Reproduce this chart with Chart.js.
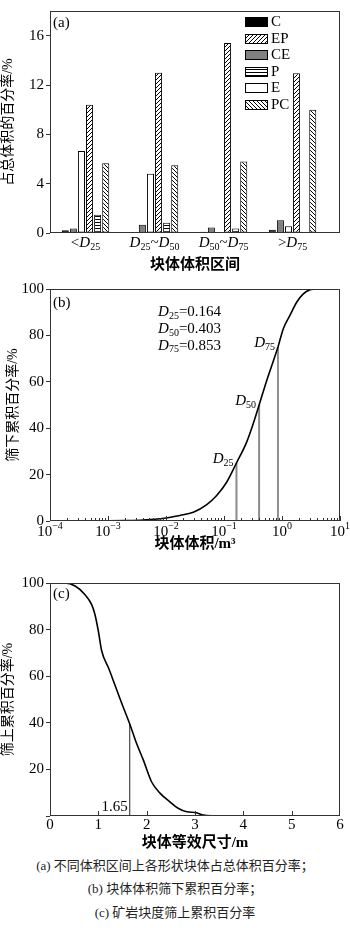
<!DOCTYPE html>
<html>
<head>
<meta charset="utf-8">
<script src="https://cdn.jsdelivr.net/npm/chart.js@4.4.1/dist/chart.umd.min.js"></script>
<style>
  html, body { margin: 0; padding: 0; background: #fff; }
  body { width: 350px; height: 928px; position: relative; overflow: hidden; }
  .panel { position: absolute; left: 0; width: 350px; }
  #pa { top: 0; height: 275px; }
  #pb { top: 278px; height: 275px; }
  #pc { top: 570px; height: 283px; }
  .cap { position: absolute; left: 0; width: 350px; text-align: center;
         font: 13px 'Liberation Serif', 'Noto Sans CJK SC', serif; line-height: 18px; color: #222; }
</style>
</head>
<body>
<div class="panel" id="pa"><canvas id="ca"></canvas></div>
<div class="panel" id="pb"><canvas id="cb"></canvas></div>
<div class="panel" id="pc"><canvas id="cc"></canvas></div>
<div class="cap" style="top:857px">(a) 不同体积区间上各形状块体占总体积百分率；</div>
<div class="cap" style="top:880px">(b) 块体体积筛下累积百分率；</div>
<div class="cap" style="top:904px">(c) 矿岩块度筛上累积百分率</div>

<script>
// (a) 各体积区间内不同形状块体的体积占比 (%)
const categories = ['<$D$_{25}', '$D$_{25}~$D$_{50}', '$D$_{50}~$D$_{75}', '>$D$_{75}'];
const catPos = [0, 1, 2, 3];
const shapeNames = ['C', 'CE', 'E', 'EP', 'P', 'PC'];
const valC  = [0.23, null, 0.1, 0.26];
const valCE = [0.36, 0.67, 0.44, 1.03];
const valE  = [6.65, 4.8, null, 0.54];
const valEP = [10.4, 13.0, 15.4, 12.95];
const valP  = [1.47, 0.83, 0.37, null];
const valPC = [5.66, 5.5, 5.8, 10.0];
const legendOrder = ['C', 'EP', 'CE', 'P', 'E', 'PC'];

// (b) 块体体积筛下累积
const volX  = [0.0005, 0.001, 0.002, 0.004, 0.008, 0.0174, 0.0296, 0.0504, 0.0748, 0.111, 0.164, 0.246, 0.32, 0.403, 0.544, 0.709, 0.853, 1.05, 1.37, 1.79, 2.33, 3.04, 3.7];
const passY = [0, 0.05, 0.2, 0.45, 0.95, 2.4, 3.8, 7.1, 11, 16.7, 25, 34, 42, 50, 60.5, 69, 75, 82.8, 88.6, 94.3, 97.9, 99.7, 100];
const dNames  = ['25', '50', '75'];
const dValues = [0.164, 0.403, 0.853];
const dLevels = [25, 50, 75];
const volTicks = [1e-4, 1e-3, 1e-2, 1e-1, 1, 10];
const volTickLabels = ['10^{−4}', '10^{−3}', '10^{−2}', '10^{−1}', '10^{0}', '10^{1}'];

// (c) 块度筛上累积
const sizeX   = [0, 0.3, 0.52, 0.72, 0.86, 0.93, 1.0, 1.07, 1.21, 1.34, 1.48, 1.65, 1.79, 1.93, 2.1, 2.28, 2.48, 2.65, 2.83, 3.03, 3.17, 3.38, 4.0, 4.6, 5.2];
const retainY = [100, 100, 98.7, 95.1, 90.8, 86.5, 79.4, 70.8, 63.6, 56.4, 48.6, 39.5, 31.2, 24.1, 14.7, 9.7, 6.1, 3.3, 1.8, 1.4, 0.4, 0.1, 0, 0, 0];
const markSize = 1.65;
const markLevel = 39.5;

Chart.defaults.font.family = "'Liberation Serif', 'Noto Sans CJK SC', serif";
Chart.defaults.font.size = 15;
Chart.defaults.color = '#000';
Chart.defaults.animation = false;
Chart.defaults.maintainAspectRatio = false;
Chart.defaults.plugins.legend.display = false;
Chart.defaults.plugins.tooltip.enabled = false;

// petit texte "riche" : $..$ italique, _{..} indice, ^{..} exposant
function richParts(s) {
  const parts = [];
  let it = false;
  s.split(/(\$|_\{[^}]*\}|\^\{[^}]*\})/).forEach(tok => {
    if (!tok) return;
    if (tok === '$') { it = !it; return; }
    if (tok[0] === '_' && tok[1] === '{') parts.push({ t: tok.slice(2, -1), sub: true });
    else if (tok[0] === '^' && tok[1] === '{') parts.push({ t: tok.slice(2, -1), sup: true });
    else parts.push({ t: tok, it });
  });
  return parts;
}
function drawRich(ctx, s, x, y, align, size = 15) {
  const parts = richParts(s);
  const small = Math.round(size * 0.68);
  const fontOf = p => (p.it ? 'italic ' : '') + (p.sub || p.sup ? small : size) + "px 'Liberation Serif', 'Noto Sans CJK SC', serif";
  ctx.save();
  let w = 0;
  parts.forEach(p => { ctx.font = fontOf(p); p.w = ctx.measureText(p.t).width; w += p.w; });
  let cx = align === 'center' ? x - w / 2 : align === 'right' ? x - w : x;
  ctx.fillStyle = '#000';
  ctx.textBaseline = 'middle';
  ctx.textAlign = 'left';
  parts.forEach(p => {
    ctx.font = fontOf(p);
    ctx.fillText(p.t, cx, y + (p.sub ? size * 0.27 : p.sup ? -size * 0.38 : 0));
    cx += p.w;
  });
  ctx.restore();
}

function hatch(kind) {
  const c = document.createElement('canvas');
  c.width = 4; c.height = kind === '-' ? 3 : 4;
  const g = c.getContext('2d');
  g.fillStyle = '#fff'; g.fillRect(0, 0, c.width, c.height);
  g.strokeStyle = '#000'; g.lineWidth = 1;
  g.beginPath();
  if (kind === '/') {
    g.moveTo(-1, 5); g.lineTo(5, -1); g.moveTo(-1, 1); g.lineTo(1, -1); g.moveTo(3, 5); g.lineTo(5, 3);
  } else if (kind === '\\') {
    g.moveTo(-1, -1); g.lineTo(5, 5); g.moveTo(3, -1); g.lineTo(5, 1); g.moveTo(-1, 3); g.lineTo(1, 5);
  } else {
    g.moveTo(0, 0.5); g.lineTo(4, 0.5);
  }
  g.stroke();
  return g.createPattern(c, 'repeat');
}

function framePlugin(tag, dy) {
  return {
    id: 'frame',
    afterDraw(chart) {
      const { ctx, chartArea: a } = chart;
      ctx.save();
      ctx.strokeStyle = '#333';
      ctx.lineWidth = 1;
      ctx.strokeRect(Math.round(a.left) + 0.5, Math.round(a.top) + 0.5,
                     Math.round(a.right - a.left) - 1, Math.round(a.bottom - a.top) - 1);
      ctx.restore();
      drawRich(ctx, tag, a.left + 3, a.top + dy, 'left');
    }
  };
}

function tickUp(ctx, px, bottom, len) {
  const x = Math.round(px) + 0.5;
  ctx.beginPath();
  ctx.moveTo(x, bottom);
  ctx.lineTo(x, bottom - len);
  ctx.stroke();
}

function yAxis(max, title, pad, hideZero) {
  return {
    min: 0, max,
    afterFit: s => { s.width = 50; },
    border: { display: false },
    grid: { drawOnChartArea: false, drawTicks: true, tickLength: 4, tickColor: '#333' },
    ticks: {
      padding: 2, color: '#000', font: { size: 15 },
      stepSize: max > 50 ? 20 : 4, includeBounds: false,
      callback: v => (hideZero && v === 0 ? '' : v)
    },
    title: { display: true, text: title, font: { size: 14 }, padding: { top: pad, bottom: 0 } }
  };
}

// ---------- (a) ----------
const shapeVals = { C: valC, CE: valCE, E: valE, EP: valEP, P: valP, PC: valPC };
const fills = { C: '#000', CE: '#808080', E: '#fff', EP: hatch('/'), P: hatch('-'), PC: hatch('\\') };

new Chart(document.getElementById('ca'), {
  type: 'bar',
  data: {
    datasets: shapeNames.map(n => ({
      label: n,
      data: catPos.map((x, i) => ({ x, y: shapeVals[n][i] })),
      backgroundColor: fills[n],
      borderColor: '#000',
      borderWidth: 1,
      borderSkipped: false,
      categoryPercentage: 0.703,
      barPercentage: 0.87
    }))
  },
  options: {
    layout: { padding: { top: 1, right: 10, left: 0, bottom: 0 } },
    scales: {
      x: {
        type: 'linear', min: -0.5145, max: 3.688, offset: false,
        ticks: { display: false, includeBounds: false, stepSize: 1 },
        afterBuildTicks: s => { s.ticks = catPos.map(v => ({ value: v })); },
        afterFit: s => { s.height = 42; },
        grid: { display: false, offset: false }, border: { display: false },
        title: { display: true, text: '块体体积区间', font: { size: 15, weight: 'bold' }, padding: { top: 0, bottom: 1 } }
      },
      y: yAxis(18, '占总体积的百分率/%', 0, false)
    }
  },
  plugins: [framePlugin('(a)', 12), {
    id: 'aDecor',
    afterDraw(chart) {
      const { ctx, chartArea: a, scales: { x } } = chart;
      categories.forEach((c, i) => drawRich(ctx, c, x.getPixelForValue(catPos[i]), a.bottom + 10, 'center'));
      legendOrder.forEach((n, i) => {
        const ds = chart.data.datasets.find(d => d.label === n);
        const bx = Math.round(a.right - 95), by = Math.round(a.top + 6 + i * 16.5);
        ctx.save();
        ctx.fillStyle = ds.backgroundColor;
        ctx.fillRect(bx, by, 23, 10);
        ctx.strokeStyle = '#000'; ctx.lineWidth = 1;
        ctx.strokeRect(bx + 0.5, by + 0.5, 22, 9);
        ctx.restore();
        drawRich(ctx, n, bx + 26, by + 5, 'left');
      });
    }
  }]
});

// ---------- (b) ----------
new Chart(document.getElementById('cb'), {
  type: 'line',
  data: {
    datasets: [
      {
        data: volX.map((x, i) => ({ x, y: passY[i] })),
        borderColor: '#000', borderWidth: 1.6, pointRadius: 0, cubicInterpolationMode: 'monotone'
      },
      ...dValues.map((d, i) => ({
        data: [{ x: d, y: 0 }, { x: d, y: dLevels[i] }],
        borderColor: i < 2 ? '#8a8a8a' : '#222', borderWidth: i < 2 ? 2 : 1, pointRadius: 0
      }))
    ]
  },
  options: {
    layout: { padding: { top: 10, right: 10, left: 0, bottom: 0 } },
    scales: {
      x: {
        type: 'logarithmic', min: 1e-4, max: 10,
        afterFit: s => { s.height = 32; },
        grid: { display: false }, border: { display: false }, ticks: { display: false },
        title: { display: true, text: '块体体积/m³', font: { size: 15, weight: 'bold' }, padding: { top: 0, bottom: 0 } }
      },
      y: yAxis(100, '筛下累积百分率/%', 4.6, false)
    }
  },
  plugins: [framePlugin('(b)', 14), {
    id: 'bDecor',
    afterDraw(chart) {
      const { ctx, chartArea: a, scales: { x, y } } = chart;
      ctx.save();
      ctx.strokeStyle = '#333'; ctx.lineWidth = 1;
      volTicks.forEach((t, k) => {
        tickUp(ctx, x.getPixelForValue(t), a.bottom, 5);
        if (k < volTicks.length - 1) {
          for (let m = 2; m <= 9; m++) tickUp(ctx, x.getPixelForValue(t * m), a.bottom, 3);
        }
      });
      ctx.restore();
      volTickLabels.forEach((s, k) => drawRich(ctx, s, x.getPixelForValue(volTicks[k]), a.bottom + 11, 'center'));
      dValues.forEach((d, i) => {
        drawRich(ctx, '$D$_{' + dNames[i] + '}=' + d.toFixed(3), x.getPixelForValue(0.0073), y.getPixelForValue(90 - i * 7.2), 'left');
        drawRich(ctx, '$D$_{' + dNames[i] + '}', x.getPixelForValue(d) - 3, y.getPixelForValue(dLevels[i]) - 4, 'right');
      });
    }
  }]
});

// ---------- (c) ----------
new Chart(document.getElementById('cc'), {
  type: 'line',
  data: {
    datasets: [
      {
        data: sizeX.map((x, i) => ({ x, y: retainY[i] })),
        borderColor: '#000', borderWidth: 1.6, pointRadius: 0, cubicInterpolationMode: 'monotone'
      },
      {
        data: [{ x: markSize, y: 0 }, { x: markSize, y: markLevel }],
        borderColor: '#222', borderWidth: 1, pointRadius: 0
      }
    ]
  },
  options: {
    layout: { padding: { top: 13, right: 10, left: 0, bottom: 0 } },
    scales: {
      x: {
        type: 'linear', min: 0, max: 6,
        afterFit: s => { s.height = 37; },
        grid: { display: false }, border: { display: false },
        ticks: { stepSize: 1, padding: -8, font: { size: 15 } },
        title: { display: true, text: '块体等效尺寸/m', font: { size: 15, weight: 'bold' }, padding: { top: 0, bottom: 1 } }
      },
      y: yAxis(100, '筛上累积百分率/%', 0, true)
    }
  },
  plugins: [framePlugin('(c)', 11), {
    id: 'cDecor',
    afterDraw(chart) {
      const { ctx, chartArea: a, scales: { x, y } } = chart;
      ctx.save();
      ctx.strokeStyle = '#333'; ctx.lineWidth = 1;
      x.ticks.forEach(t => {
        if (t.value > x.min && t.value < x.max) tickUp(ctx, x.getPixelForValue(t.value), a.bottom, 5);
      });
      ctx.restore();
      drawRich(ctx, markSize.toFixed(2), x.getPixelForValue(markSize) - 2, a.bottom - 9, 'right');
    }
  }]
});
</script>
</body>
</html>
